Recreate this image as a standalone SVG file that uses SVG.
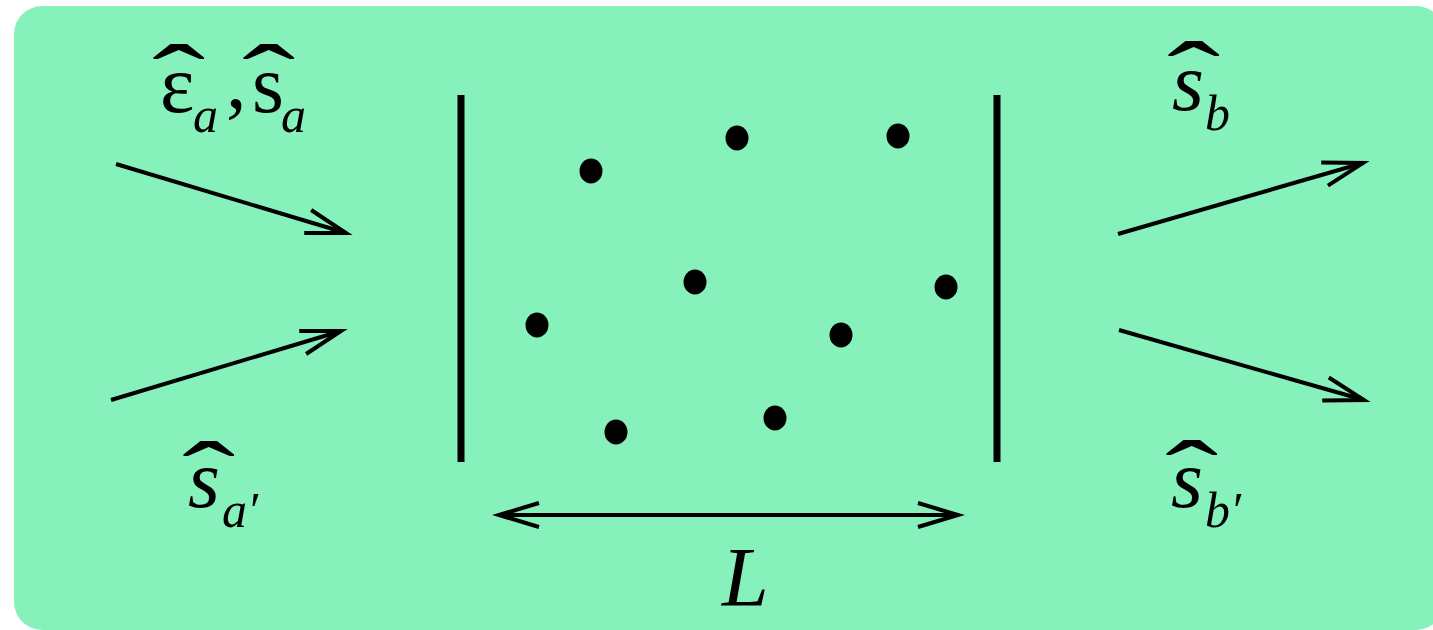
<svg xmlns="http://www.w3.org/2000/svg" width="1433" height="630" viewBox="0 0 1433 630">
  <style>
    text { font-family: 'Liberation Serif', 'Times New Roman', serif; fill: #000; }
    .big { font-size: 82px; }
    .sub { font-size: 50px; font-style: italic; }
    .it { font-style: italic; }
    .hat { font-size: 100px; font-style: normal; }
    .ln { stroke: #000; stroke-width: 4; fill: none; }
    .bar { stroke: #000; stroke-width: 7; }
  </style>
  <defs>
    <marker id="arr" markerUnits="userSpaceOnUse" viewBox="-45 -16 50 32" markerWidth="50" markerHeight="32" refX="0" refY="0" orient="auto-start-reverse" overflow="visible">
      <path d="M-40,-12 L0,0 L-40,12" fill="none" stroke="#000" stroke-width="4"/>
    </marker>
  </defs>
  <rect id="bg" x="14" y="6" width="1430" height="624" rx="28" ry="28" fill="#86F1BB"/>

  <g id="slab">
    <line class="bar" x1="461" y1="95" x2="461" y2="462"/>
    <line class="bar" x1="997" y1="95" x2="997" y2="462"/>
  </g>

  <g id="scatterers" fill="#000">
    <ellipse cx="591" cy="171" rx="11.5" ry="12.5"/>
    <ellipse cx="737" cy="138" rx="11.5" ry="12.5"/>
    <ellipse cx="898" cy="136" rx="11.5" ry="12.5"/>
    <ellipse cx="695" cy="282" rx="11.5" ry="12.5"/>
    <ellipse cx="946" cy="287" rx="11.5" ry="12.5"/>
    <ellipse cx="537" cy="325" rx="11.5" ry="12.5"/>
    <ellipse cx="841" cy="335" rx="11.5" ry="12.5"/>
    <ellipse cx="616" cy="432" rx="11.5" ry="12.5"/>
    <ellipse cx="775" cy="418" rx="11.5" ry="12.5"/>
  </g>

  <g id="connectors">
    <line class="ln" x1="116" y1="164" x2="346" y2="233" marker-end="url(#arr)"/>
    <line class="ln" x1="111" y1="400" x2="341" y2="331" marker-end="url(#arr)"/>
    <line class="ln" x1="1118" y1="234" x2="1363" y2="163" marker-end="url(#arr)"/>
    <line class="ln" x1="1119" y1="330" x2="1364" y2="400" marker-end="url(#arr)"/>
    <line class="ln" x1="499" y1="515" x2="958" y2="515" marker-start="url(#arr)" marker-end="url(#arr)"/>
  </g>

  <g id="label-in-a">
    <text class="hat" transform="translate(152,114) scale(1.6,1)">ˆ</text>
    <text class="hat" transform="translate(242,114) scale(1.6,1)">ˆ</text>
    <text><tspan class="big" x="160" y="112">ε</tspan><tspan class="sub" x="193" y="132">a</tspan><tspan class="big" x="226" y="108">,</tspan><tspan class="big" x="252" y="112">s</tspan><tspan class="sub" x="281" y="132">a</tspan></text>
  </g>

  <g id="label-in-a-prime">
    <text class="hat" transform="translate(182,511) scale(1.6,1)">ˆ</text>
    <text><tspan class="big it" x="188" y="507">s</tspan><tspan class="sub" x="222" y="527">a′</tspan></text>
  </g>

  <g id="label-out-b">
    <text class="hat" transform="translate(1167,111) scale(1.6,1)">ˆ</text>
    <text><tspan class="big it" x="1172" y="110">s</tspan><tspan class="sub" x="1205" y="130">b</tspan></text>
  </g>

  <g id="label-out-b-prime">
    <text class="hat" transform="translate(1165,510) scale(1.6,1)">ˆ</text>
    <text><tspan class="big it" x="1171" y="507">s</tspan><tspan class="sub" x="1205" y="527">b′</tspan></text>
  </g>

  <g id="label-L">
    <text class="it" x="722" y="606" font-size="84">L</text>
  </g>
</svg>
